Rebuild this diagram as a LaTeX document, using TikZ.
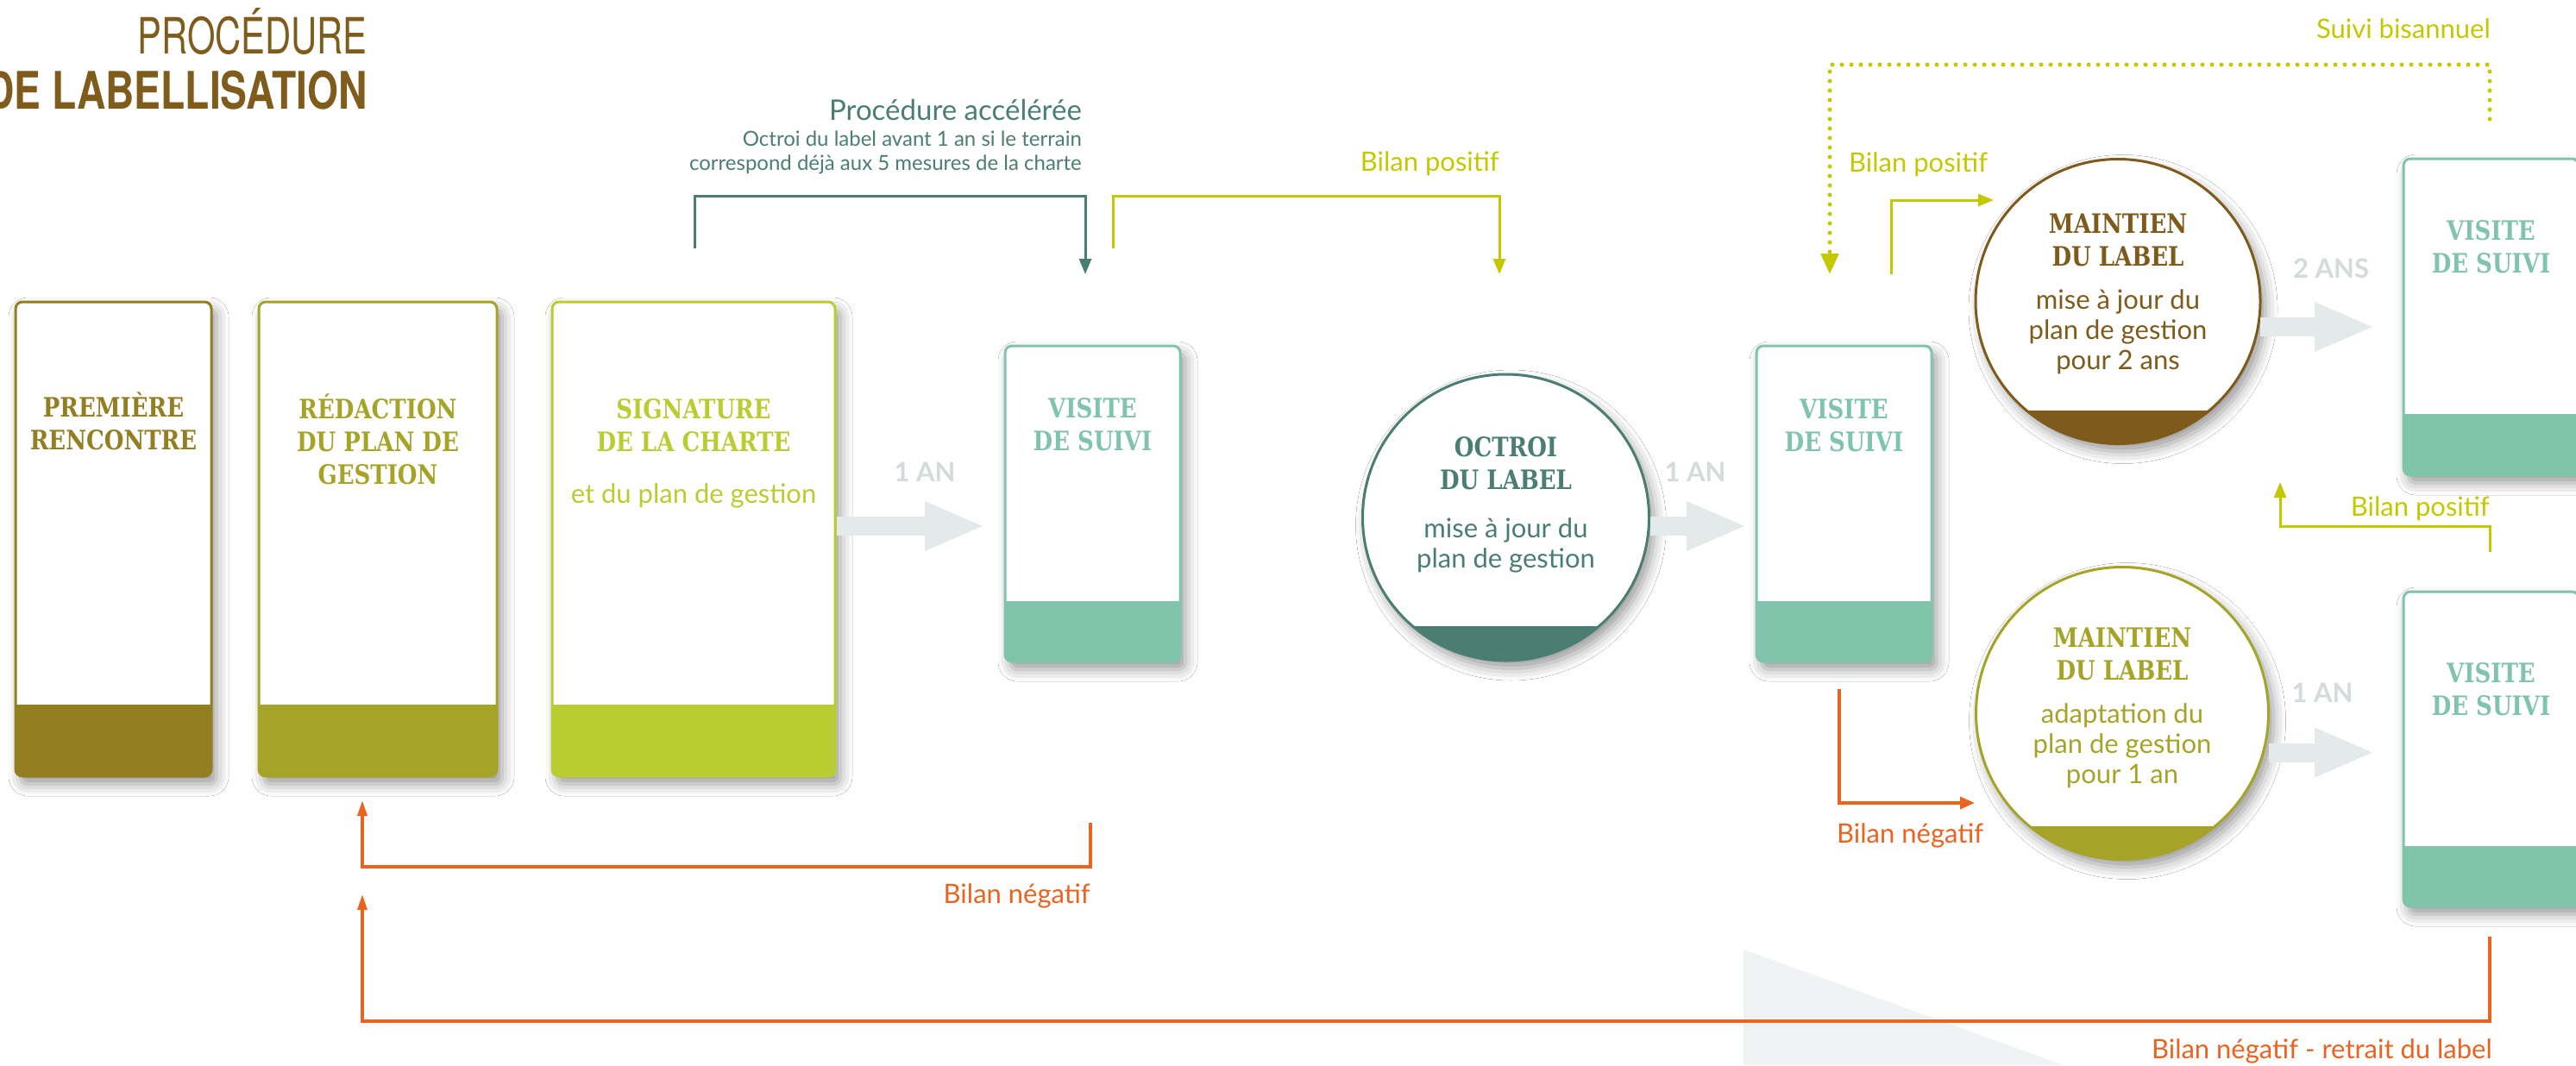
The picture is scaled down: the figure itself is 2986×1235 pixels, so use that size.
\documentclass[tikz,border=0pt]{standalone}
\usepackage{fontspec}
\usepackage{graphicx}
\usetikzlibrary{arrows.meta,shadows.blur,calc}
\setmainfont{Lato}
\newfontfamily\slab[FakeStretch=0.84]{DejaVu Serif}
\newfontfamily\lato{Lato}
\newfontfamily\heros{TeX Gyre Heros}
\definecolor{titlebrown}{HTML}{7F5B1C}
\definecolor{olA}{HTML}{937F22}
\definecolor{olB}{HTML}{A6A428}
\definecolor{limeC}{HTML}{B9CD33}
\definecolor{vteal}{HTML}{80C4AB}
\definecolor{dteal}{HTML}{4A7E73}
\definecolor{cbrown}{HTML}{7F5B1B}
\definecolor{lline}{HTML}{C3C800}
\definecolor{orng}{HTML}{EA6420}
\definecolor{garrow}{HTML}{E4EAEA}
\definecolor{gtext}{HTML}{D3DBDB}
\definecolor{tri}{HTML}{EFF3F4}
\tikzset{
  procbox/.style={rectangle, rounded corners=8pt, fill=white, line width=3pt,
    inner sep=0pt, outer sep=0pt,
    blur shadow={shadow xshift=6pt, shadow yshift=-9pt, shadow blur radius=14pt, shadow opacity=40}},
  circ/.style={circle, fill=white, line width=3pt, inner sep=0pt, outer sep=0pt,
    blur shadow={shadow xshift=6pt, shadow yshift=-9pt, shadow blur radius=14pt, shadow opacity=40}},
  head/.style={font=\slab\bfseries\fontsize{31}{38}\selectfont, align=center, anchor=base, inner sep=0pt},
  body/.style={font=\lato\fontsize{31}{35}\selectfont, align=center, anchor=base, inner sep=0pt},
  lbl/.style={font=\lato\fontsize{31}{35}\selectfont, inner sep=0pt},
  yrs/.style={font=\lato\bfseries\fontsize{31}{35}\selectfont, text=gtext, anchor=base, inner sep=0pt},
  bigarr/.style={draw=garrow, line width=22pt, -{Triangle[length=70pt,width=52pt]}},
  lline3/.style={line width=3pt},
  tipA/.style={-{Triangle[length=18pt,width=14pt]}},
}
\begin{document}
\begin{tikzpicture}[x=1pt,y=-1pt]
\fill[white] (0,0) rectangle (2986,1235);
\useasboundingbox (0,0) rectangle (2986,1235);
\fill[tri] (2021,1101) -- (2392,1235) -- (2021,1235) -- cycle;

% title
\node[anchor=base east, text=titlebrown, inner sep=0pt] (title1) at (426,62)
  {\scalebox{0.72}[1]{\heros\fontsize{58}{60}\selectfont PROCÉDURE}};
\node[anchor=base east, text=titlebrown, inner sep=0pt] (title2) at (426,126)
  {\scalebox{0.77}[1]{\heros\bfseries\fontsize{60}{60}\selectfont DE LABELLISATION}};

% left boxes
\node[procbox, draw=olA, minimum width=227pt, minimum height=550pt] (b1) at (131.5,625) {};
\begin{scope}\clip[rounded corners=8pt] (18,350) rectangle (245,900); \fill[olA] (10,817) rectangle (255,910);\end{scope}
\node[procbox, draw=olB, minimum width=276pt, minimum height=550pt] (b2) at (438,625) {};
\begin{scope}\clip[rounded corners=8pt] (300,350) rectangle (576,900); \fill[olB] (290,817) rectangle (590,910);\end{scope}
\node[procbox, draw=limeC, minimum width=328pt, minimum height=550pt] (b3) at (804,625) {};
\begin{scope}\clip[rounded corners=8pt] (640,350) rectangle (968,900); \fill[limeC] (630,817) rectangle (980,910);\end{scope}

\node[head, text=olA] (t1) at (131.5,521) {PREMIÈRE\\RENCONTRE};
\node[head, text=olB] (t2) at (438,561) {RÉDACTION\\DU PLAN DE\\GESTION};
\node[head, text=limeC] (t3) at (804,523) {SIGNATURE\\DE LA CHARTE};
\node[body, text=limeC] (t3b) at (804,583) {et du plan de gestion};

% visite boxes
\node[procbox, draw=vteal, minimum width=203pt, minimum height=366pt] (v1) at (1266.5,584) {};
\begin{scope}\clip[rounded corners=8pt] (1165,401) rectangle (1368,767); \fill[vteal] (1160,697) rectangle (1375,775);\end{scope}
\node[procbox, draw=vteal, minimum width=203pt, minimum height=366pt] (v2) at (2137.5,584) {};
\begin{scope}\clip[rounded corners=8pt] (2036,401) rectangle (2239,767); \fill[vteal] (2030,697) rectangle (2245,775);\end{scope}
\node[procbox, draw=vteal, minimum width=203pt, minimum height=367pt] (v3) at (2887.5,367.5) {};
\begin{scope}\clip[rounded corners=8pt] (2786,184) rectangle (2989,551); \fill[vteal] (2780,480) rectangle (2995,560);\end{scope}
\node[procbox, draw=vteal, minimum width=203pt, minimum height=365pt] (v4) at (2887.5,868.5) {};
\begin{scope}\clip[rounded corners=8pt] (2786,686) rectangle (2989,1051); \fill[vteal] (2780,981) rectangle (2995,1060);\end{scope}

\node[head, text=vteal] (tv1) at (1266.5,522) {VISITE\\DE SUIVI};
\node[head, text=vteal] (tv2) at (2137.5,523) {VISITE\\DE SUIVI};
\node[head, text=vteal] (tv3) at (2887.5,316) {VISITE\\DE SUIVI};
\node[head, text=vteal] (tv4) at (2887.5,829) {VISITE\\DE SUIVI};

% circles
\node[circ, draw=dteal, minimum size=332pt] (oc) at (1745.5,600) {};
\begin{scope}\clip (1745.5,600) circle[radius=166pt]; \fill[dteal] (1570,726) rectangle (1920,780);\end{scope}
\node[circ, draw=cbrown, minimum size=330pt] (m1) at (2455,349.5) {};
\begin{scope}\clip (2455,349.5) circle[radius=165pt]; \fill[cbrown] (2280,476) rectangle (2630,530);\end{scope}
\node[circ, draw=olB, minimum size=339pt] (m2) at (2460,827) {};
\begin{scope}\clip (2460,827) circle[radius=169.5pt]; \fill[olB] (2280,958) rectangle (2640,1010);\end{scope}

\node[head, text=dteal] (toc) at (1745.5,567) {OCTROI\\DU LABEL};
\node[body, text=dteal] (toc2) at (1745.5,658) {mise à jour du\\plan de gestion};
\node[head, text=cbrown] (tm1) at (2455,308) {MAINTIEN\\DU LABEL};
\node[body, text=cbrown] (tm1b) at (2455,428) {mise à jour du\\plan de gestion\\pour 2 ans};
\node[head, text=olB] (tm2) at (2460,788) {MAINTIEN\\DU LABEL};
\node[body, text=olB] (tm2b) at (2460,908) {adaptation du\\plan de gestion\\pour 1 an};

% big grey arrows
\coordinate (a1e) at (1142,610);
\coordinate (a2e) at (2025,610);
\coordinate (a3e) at (2753,379);
\coordinate (a4e) at (2753,872.5);
\draw[bigarr] ($(b3.east |- a1e)+(1.5,0)$) -- (a1e);
\draw[bigarr] ($(oc.east |- a2e)+(1,0)$) -- (a2e);
\draw[bigarr] ($(m1.east |- a3e)+(0,0)$) -- (a3e);
\draw[bigarr] ($(m2.east |- a4e)+(0,0)$) -- (a4e);
\node[yrs] (y1) at (1072,558) {1 AN};
\node[yrs] (y2) at (1965,558) {1 AN};
\node[yrs] (y3) at (2702,322) {2 ANS};
\node[yrs] (y4) at (2692,814) {1 AN};

% procedure acceleree
\node[anchor=base east, inner sep=0pt, text=dteal, font=\lato\fontsize{33}{35}\selectfont] (pacc) at (1254,139) {Procédure accélérée};
\node[anchor=base east, inner sep=0pt, text=dteal, font=\lato\fontsize{24}{28}\selectfont, align=right] (pacc2) at (1254,197) {Octroi du label avant 1 an si le terrain\\correspond déjà aux 5 mesures de la charte};

% connectors
\coordinate (pa1) at ($(b3.north)+(1,-62)$);
\coordinate (pa2) at ($(v1.north)+(-8.5,-83)$);
\draw[dteal, lline3, tipA] (pa1) -- ++(0,-61) -| (pa2);

\coordinate (pb1) at ($(v1.north)+(23.5,-113)$);
\coordinate (pb2) at ($(oc.north)+(-7.5,-116)$);
\draw[lline, lline3, tipA] (pb1) -- ++(0,-61) -| (pb2);
\node[lbl, anchor=base east, text=lline] (lb1) at (1738,198) {Bilan positif};

\coordinate (pc1) at ($(v3.north)+(-1.5,-46)$);
\coordinate (pc2) at ($(v2.north)+(-16.5,-83)$);
\draw[lline, line width=5pt, line cap=round, dash pattern=on 0pt off 11pt, -{Triangle[length=24pt,width=20pt]}] (pc1) -- ++(0,-63) -| (pc2);
\node[lbl, anchor=base east, text=lline] (lb2) at (2887,44) {Suivi bisannuel};

\coordinate (pd1) at ($(v2.north)+(54.5,-83)$);
\coordinate (pd2) at ($(m1.west)+(21,-117.5)$);
\draw[lline, lline3, tipA] (pd1) |- (pd2);
\node[lbl, anchor=base west, text=lline] (lb3) at (2143,199) {Bilan positif};

\coordinate (pe1) at ($(v4.north)+(-1.5,-46)$);
\coordinate (pe2) at ($(v3.south)+(-244.5,8)$);
\draw[lline, lline3, tipA] (pe1) -- ++(0,-30) -| (pe2);
\node[lbl, anchor=base east, text=lline] (lb4) at (2886,598) {Bilan positif};

\coordinate (pf1) at ($(v2.south)+(-5.5,32)$);
\coordinate (pf2) at ($(m2.west)+(-1.5,104)$);
\draw[orng, line width=3.5pt, -{Triangle[length=17pt,width=14pt]}] (pf1) |- (pf2);
\node[lbl, anchor=base west, text=orng] (lb5) at (2129,977) {Bilan négatif};

\coordinate (pg1) at ($(v1.south)+(-2.5,187)$);
\coordinate (pg2) at ($(b2.south)+(-18,28)$);
\draw[orng, line width=3.5pt, -{Triangle[length=18pt,width=11pt]}] (pg1) -- ++(0,51) -| (pg2);
\node[lbl, anchor=base east, text=orng] (lb6) at (1264,1047) {Bilan négatif};

\coordinate (ph1) at ($(v4.south)+(-1.5,35)$);
\coordinate (ph2) at ($(b2.south)+(-18,137)$);
\draw[orng, line width=3.5pt, -{Triangle[length=18pt,width=11pt]}] (ph1) -- ++(0,98) -| (ph2);
\node[lbl, anchor=base east, text=orng] (lb7) at (2889,1227) {Bilan négatif - retrait du label};
\end{tikzpicture}
\end{document}
